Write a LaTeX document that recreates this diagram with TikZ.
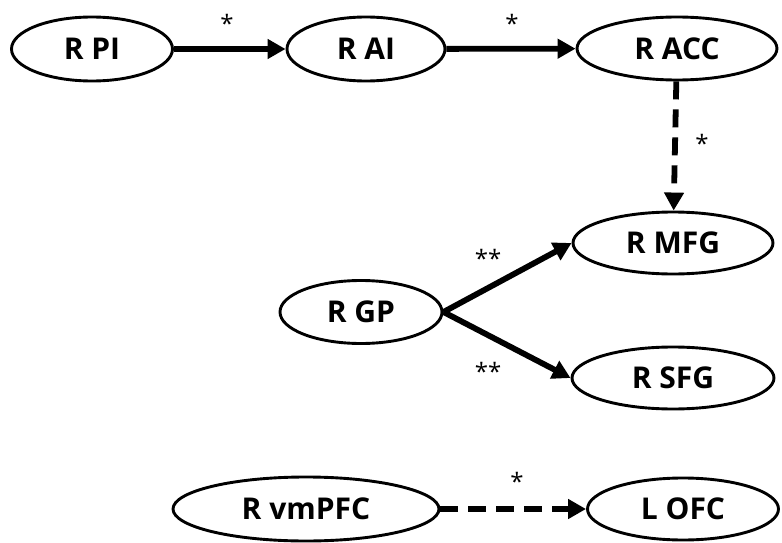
\documentclass[tikz,border=0pt]{standalone}
\usepackage{fontspec}
\setmainfont{Open Sans}
\usetikzlibrary{arrows.meta,shapes.geometric}
\tikzset{
  region/.style={ellipse, draw, line width=2.9pt, inner sep=0pt, font=\fontsize{30}{32}\selectfont\bfseries},
  link/.style={line width=5.8pt, -{Triangle[length=18pt,width=19pt]}},
  dlink/.style={link, dash pattern=on 18pt off 10pt},
  star/.style={font=\fontsize{24}{26}\selectfont, inner sep=0pt, anchor=base}
}
\begin{document}
\begin{tikzpicture}[x=1pt,y=-1pt]
\useasboundingbox (0,0) rectangle (782,543);
\node[region, minimum width=161pt, minimum height=64pt] (pi) at (92,49) {R PI};
\node[region, minimum width=158pt, minimum height=64pt] (ai) at (366,49) {R AI};
\node[region, minimum width=200pt, minimum height=63pt] (acc) at (677,48.5) {R ACC};
\node[region, minimum width=200pt, minimum height=62pt] (mfg) at (673,243) {R MFG};
\node[region, minimum width=162pt, minimum height=63pt] (gp) at (361,312) {R GP};
\node[region, minimum width=202pt, minimum height=62pt] (sfg) at (673,378) {R SFG};
\node[region, minimum width=266pt, minimum height=64pt] (vm) at (306,509) {R vmPFC};
\node[region, minimum width=191pt, minimum height=62pt] (ofc) at (683,509) {L OFC};
\draw[link] (pi) -- (ai);
\draw[link] (ai) -- (acc);
\draw[dlink] (acc) -- (mfg);
\draw[link] (gp.east) -- (mfg.west);
\draw[link] (gp.east) -- (sfg.west);
\draw[dlink] (vm) -- (ofc);
\node[star] (s1) at (227,33) {*};
\node[star] (s2) at (512,33) {*};
\node[star] (s3) at (702,152) {*};
\node[star] (s4) at (488,267) {**};
\node[star] (s5) at (488,380) {**};
\node[star] (s6) at (517,490) {*};
\end{tikzpicture}
\end{document}
